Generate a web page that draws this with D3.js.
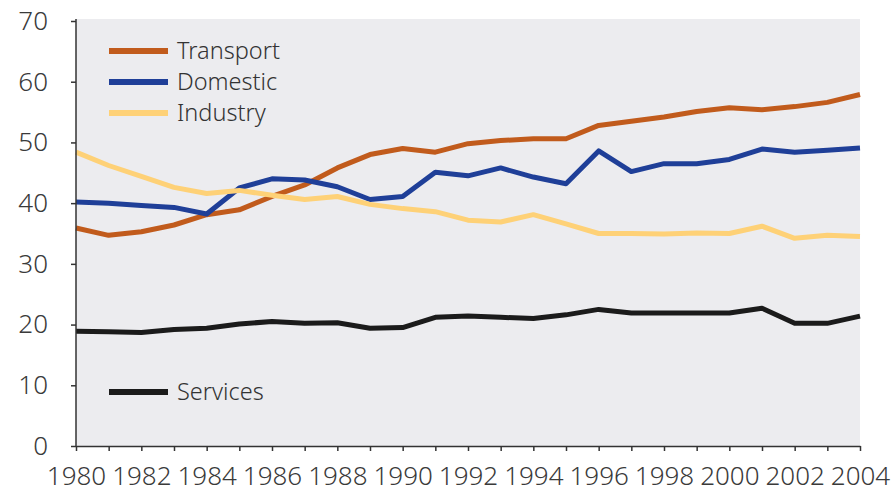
<!DOCTYPE html>
<html>
<head>
<meta charset="utf-8">
<script src="https://cdn.jsdelivr.net/npm/d3@7"></script>
<style>
  html, body { margin: 0; padding: 0; background: #ffffff; }
  svg { display: block; font-family: "Noto Sans", "Open Sans", sans-serif; font-weight: 300; }
  .axis text { fill: #3a3a3a; font-size: 26px; font-family: "Noto Sans", "Open Sans", sans-serif; font-weight: 300; }
  .axis path, .axis line { stroke: #333333; stroke-width: 1.5px; }
</style>
</head>
<body>
<svg id="chart" width="893" height="497"></svg>
<script>
// Years on the horizontal axis
const years = d3.range(1980, 2005);

// Series values, one per year 1980–2004
const transport = [35.9, 34.7, 35.3, 36.4, 38.1, 38.9, 41.1, 43.0, 45.8, 48.0, 49.0, 48.4, 49.8, 50.3, 50.6, 50.6, 52.8, 53.5, 54.2, 55.1, 55.7, 55.4, 55.9, 56.6, 57.9];
const domestic  = [40.2, 40.0, 39.6, 39.3, 38.2, 42.5, 44.0, 43.8, 42.7, 40.6, 41.1, 45.1, 44.5, 45.8, 44.3, 43.2, 48.6, 45.2, 46.5, 46.5, 47.2, 48.9, 48.4, 48.7, 49.1];
const industry  = [48.4, 46.2, 44.4, 42.6, 41.6, 42.1, 41.3, 40.6, 41.1, 39.8, 39.1, 38.6, 37.2, 36.9, 38.1, 36.6, 35.0, 35.0, 34.9, 35.1, 35.0, 36.2, 34.2, 34.7, 34.5];
const services  = [18.9, 18.8, 18.7, 19.2, 19.4, 20.1, 20.5, 20.2, 20.3, 19.4, 19.5, 21.2, 21.4, 21.2, 21.0, 21.6, 22.5, 21.9, 21.9, 21.9, 21.9, 22.7, 20.2, 20.2, 21.4];

// Axis ticks
const yTicks = [0, 10, 20, 30, 40, 50, 60, 70];
const xLabelYears = d3.range(1980, 2005, 2);

const seriesNames  = ["Transport", "Domestic", "Industry", "Services"];
const seriesValues = [transport, domestic, industry, services];
const seriesColors = ["#c15b1c", "#1f3f98", "#fed177", "#1b1b1b"];

const svg = d3.select("#chart");
const plotLeft = 76, plotRight = 860, plotTop = 19, plotBottom = 446;

const x = d3.scaleLinear().domain([1980, 2004]).range([plotLeft, plotRight]);
const y = d3.scaleLinear().domain([0, 70]).range([plotBottom, 21]);

// Plot background
svg.append("rect")
  .attr("x", plotLeft).attr("y", plotTop)
  .attr("width", plotRight - plotLeft).attr("height", plotBottom - plotTop)
  .attr("fill", "#ececef");

// Series lines
const line = d3.line()
  .x((d, i) => x(years[i]))
  .y(d => y(d));

seriesValues.forEach((vals, k) => {
  svg.append("path")
    .datum(vals)
    .attr("d", line)
    .attr("fill", "none")
    .attr("stroke", seriesColors[k])
    .attr("stroke-width", 5)
    .attr("stroke-linejoin", "round");
});

// Axes
const yAxis = svg.append("g")
  .attr("class", "axis")
  .attr("transform", `translate(${plotLeft},0)`)
  .call(d3.axisLeft(y).tickValues(yTicks).tickSize(5).tickSizeOuter(0).tickPadding(23));
yAxis.select(".domain").attr("d", `M0,${plotTop}V${plotBottom}`);

svg.append("g")
  .attr("class", "axis")
  .attr("transform", `translate(0,${plotBottom})`)
  .call(d3.axisBottom(x).tickValues(years).tickSize(5).tickSizeOuter(0).tickPadding(16)
    .tickFormat(d => xLabelYears.includes(d) ? String(d) : ""));

// Legend
const legendRows = [
  { i: 0, y: 51 },
  { i: 1, y: 82 },
  { i: 2, y: 113 },
  { i: 3, y: 392 }
];
legendRows.forEach(r => {
  svg.append("line")
    .attr("x1", 109).attr("x2", 168)
    .attr("y1", r.y).attr("y2", r.y)
    .attr("stroke", seriesColors[r.i])
    .attr("stroke-width", 6);
  svg.append("text")
    .attr("x", 177).attr("y", r.y)
    .attr("dy", "0.36em")
    .attr("fill", "#333333")
    .style("font-size", "23.5px")
    .text(seriesNames[r.i]);
});
</script>
</body>
</html>
